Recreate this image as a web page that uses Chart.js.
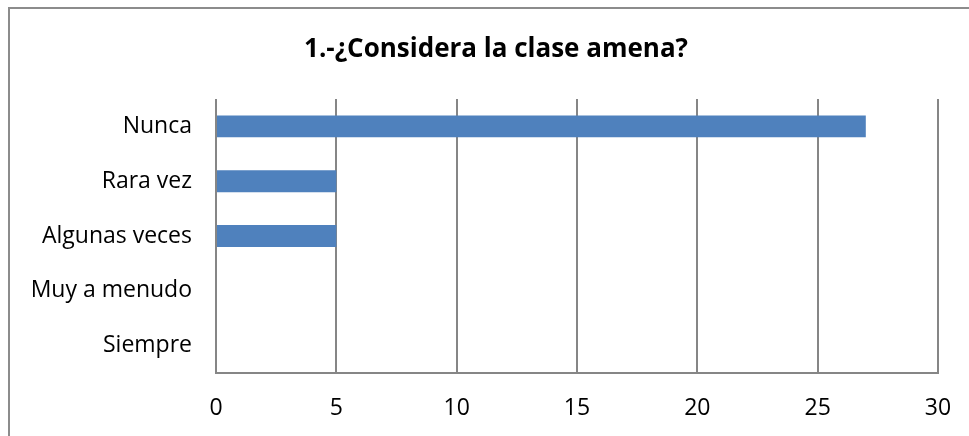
<!DOCTYPE html>
<html>
<head>
<meta charset="utf-8">
<script src="https://cdn.jsdelivr.net/npm/chart.js@4"></script>
<style>
  html, body { margin: 0; padding: 0; background: #fff; }
  #wrap { position: relative; width: 969px; height: 436px; overflow: hidden; }
  #frame { position: absolute; left: 8px; top: 7px; width: 1000px; height: 1000px; border-left: 2px solid #8c8c8c; border-top: 2px solid #8c8c8c; box-sizing: border-box; pointer-events: none; }
  canvas { position: absolute; left: 0; top: 0; }
</style>
</head>
<body>
<div id="wrap">
  <canvas id="c" width="969" height="436"></canvas>
  <div id="frame"></div>
</div>
<script>
const categories = ["Nunca", "Rara vez", "Algunas veces", "Muy a menudo", "Siempre"];
const values = [27, 5, 5, 0, 0];
const xTicks = [0, 5, 10, 15, 20, 25, 30];
const titleText = "1.-¿Considera la clase amena?";

Chart.defaults.font.family = "'Open Sans', sans-serif";
Chart.defaults.color = "#000";

const titlePlugin = {
  id: "offsetTitle",
  afterDraw(chart) {
    const ctx = chart.ctx;
    ctx.save();
    ctx.font = "bold 26px 'Open Sans', sans-serif";
    ctx.fillStyle = "#000";
    ctx.textAlign = "center";
    ctx.textBaseline = "middle";
    ctx.fillText(titleText, 496, 50);
    ctx.restore();
  }
};

new Chart(document.getElementById("c"), {
  type: "bar",
  data: {
    labels: categories,
    datasets: [{
      data: values,
      backgroundColor: "#4F81BD",
      borderWidth: 0,
      barPercentage: 0.8,
      categoryPercentage: 0.5
    }]
  },
  options: {
    indexAxis: "y",
    responsive: false,
    animation: false,
    devicePixelRatio: 1,
    layout: { padding: { left: 0, right: 31, top: 99, bottom: 0 } },
    plugins: {
      legend: { display: false },
      tooltip: { enabled: false },
      title: { display: false }
    },
    scales: {
      x: {
        min: 0,
        max: 30,
        afterBuildTicks: (s) => { s.ticks = xTicks.map(v => ({ value: v })); },
        afterFit: (s) => { s.height = 63; s.paddingLeft = 0; s.paddingRight = 0; },
        grid: { color: "#868686", lineWidth: 2, drawTicks: false },
        border: { color: "#868686", width: 2 },
        ticks: { font: { size: 23 }, padding: 22, color: "#000" }
      },
      y: {
        afterFit: (s) => { s.width = 216; s.paddingTop = 0; s.paddingBottom = 0; },
        grid: { display: false, drawTicks: false },
        border: { display: false },
        ticks: { font: { size: 23 }, padding: 24, color: "#000" }
      }
    }
  },
  plugins: [titlePlugin]
});
</script>
</body>
</html>
